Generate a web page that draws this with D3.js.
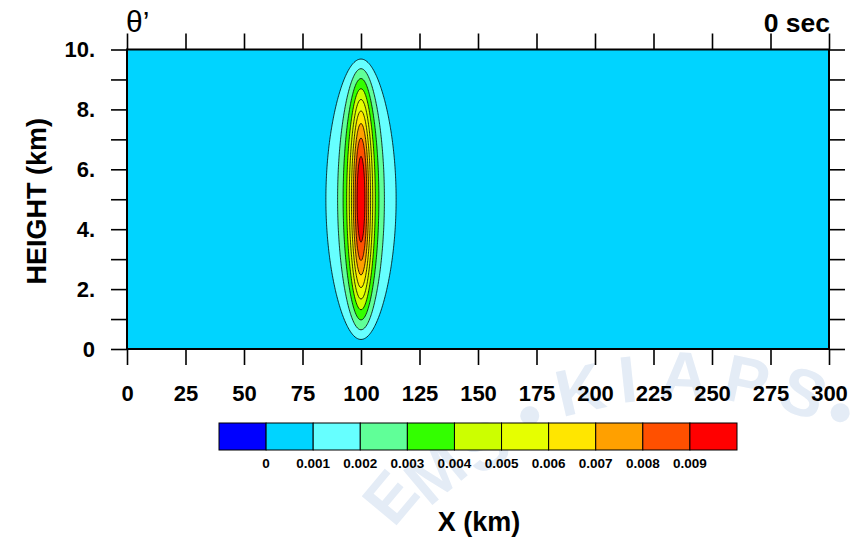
<!DOCTYPE html>
<html>
<head>
<meta charset="utf-8">
<script src="https://cdn.jsdelivr.net/npm/d3@7"></script>
<style>
  body { margin: 0; background: #fff; }
  svg { display: block; }
  text { font-family: "Liberation Sans", Arial, Helvetica, sans-serif; }
</style>
</head>
<body>
<svg id="chart" width="861" height="537"></svg>
<script>
// Axis ticks
const xTicks = [0, 25, 50, 75, 100, 125, 150, 175, 200, 225, 250, 275, 300];
const yTicks = [0, 1, 2, 3, 4, 5, 6, 7, 8, 9, 10];
const yTickLabels = ["0", "", "2.", "", "4.", "", "6.", "", "8.", "", "10."];

// Contour levels of theta' (K) and the fill colour of each band
const levels = [0, 0.001, 0.002, 0.003, 0.004, 0.005, 0.006, 0.007, 0.008, 0.009];
const levelLabels = ["0", "0.001", "0.002", "0.003", "0.004", "0.005", "0.006", "0.007", "0.008", "0.009"];
const bandColors = ["#0000FF", "#00D4FF", "#66FFFF", "#60FF98", "#33FF00", "#CCFF00",
                    "#E6FF00", "#FFE600", "#FFA000", "#FF5000", "#FF0000"];

// Initial potential-temperature perturbation (inertia-gravity wave test)
const thetaAmp = 0.01;   // K
const xCenter = 100;     // km
const halfWidth = 5;     // km
const depth = 10;        // km
const domainX = 300;     // km

// Model grid
const dxKm = 0.5, dzKm = 0.05;
const nx = Math.round(domainX / dxKm) + 1;
const nz = Math.round(depth / dzKm) + 1;
const field = new Float64Array(nx * nz);
for (let j = 0; j < nz; j++) {
  const z = j * dzKm;
  for (let i = 0; i < nx; i++) {
    const x = i * dxKm;
    field[j * nx + i] = thetaAmp * Math.sin(Math.PI * z / depth) /
                        (1 + ((x - xCenter) / halfWidth) ** 2);
  }
}

const svg = d3.select("#chart");
const x = d3.scaleLinear([0, domainX], [127, 829]);
const y = d3.scaleLinear([0, depth], [349, 49.5]);

// Faint logo watermark behind the figure
const wm = svg.append("g").attr("fill", "#e4ecf6").attr("font-weight", "bold")
  .attr("font-size", 66);
const wmLetters = [
  ["E", 408, 512, -50], ["M", 450, 490, -40], ["S", 496, 466, -30], ["•", 538, 436, -22],
  ["K", 585, 412, -13], ["I", 630, 402, -6], ["A", 683, 398, 3], ["P", 742, 403, 12],
  ["S", 795, 414, 21], ["•", 830, 432, 28]
];
wm.selectAll("text").data(wmLetters).join("text")
  .attr("text-anchor", "middle")
  .attr("transform", d => `translate(${d[1]},${d[2]}) rotate(${d[3]})`)
  .text(d => d[0]);

// Plot area
svg.append("clipPath").attr("id", "plotClip")
  .append("rect").attr("x", x(0)).attr("y", y(depth))
  .attr("width", x(domainX) - x(0)).attr("height", y(0) - y(depth));

const plot = svg.append("g").attr("clip-path", "url(#plotClip)");
plot.append("rect")
  .attr("x", x(0)).attr("y", y(depth))
  .attr("width", x(domainX) - x(0)).attr("height", y(0) - y(depth))
  .attr("fill", bandColors[1]);

const contourLevels = levels.slice(1);
const contours = d3.contours().size([nx, nz]).thresholds(contourLevels)(field);
const project = d3.geoTransform({
  point(px, py) {
    this.stream.point(x((px - 0.5) * dxKm), y((py - 0.5) * dzKm));
  }
});
const path = d3.geoPath(project);

plot.selectAll("path.band").data(contours).join("path")
  .attr("class", "band")
  .attr("d", path)
  .attr("fill", d => bandColors[levels.indexOf(d.value) + 1])
  .attr("stroke", "#000")
  .attr("stroke-width", 0.8);

// Axes (ticks all round, labels on left and bottom)
const tickStyle = g => {
  g.select(".domain").remove();
  g.selectAll(".tick line").attr("stroke", "#000").attr("stroke-width", 1.6);
  g.selectAll(".tick text").attr("fill", "#000").attr("font-size", 22)
    .attr("font-weight", "bold").attr("font-family", "\"Liberation Sans\", Arial, sans-serif");
};

svg.append("g").attr("transform", `translate(0,${y(0)})`)
  .call(d3.axisBottom(x).tickValues(xTicks).tickSize(16).tickPadding(20).tickFormat(d3.format("d")))
  .call(tickStyle);
svg.append("g").attr("transform", `translate(0,${y(depth)})`)
  .call(d3.axisTop(x).tickValues(xTicks).tickSize(16).tickFormat(() => ""))
  .call(tickStyle);
svg.append("g").attr("transform", `translate(${x(0)},0)`)
  .call(d3.axisLeft(y).tickValues(yTicks).tickSize(16).tickPadding(16)
    .tickFormat((d, i) => yTickLabels[i]))
  .call(tickStyle);
svg.append("g").attr("transform", `translate(${x(domainX)},0)`)
  .call(d3.axisRight(y).tickValues(yTicks).tickSize(16).tickFormat(() => ""))
  .call(tickStyle);

svg.append("rect")
  .attr("x", x(0)).attr("y", y(depth))
  .attr("width", x(domainX) - x(0)).attr("height", y(0) - y(depth))
  .attr("fill", "none").attr("stroke", "#000").attr("stroke-width", 2);

// Titles
svg.append("text").attr("x", 126).attr("y", 32).attr("font-size", 30).text("θ’");
svg.append("text").attr("x", 830).attr("y", 32).attr("font-size", 26.5)
  .attr("font-weight", "bold").attr("text-anchor", "end").text("0 sec");
svg.append("text")
  .attr("transform", `translate(46,${(y(0) + y(depth)) / 2 + 2}) rotate(-90)`)
  .attr("text-anchor", "middle").attr("font-size", 27).attr("font-weight", "bold")
  .text("HEIGHT (km)");
svg.append("text").attr("x", 479).attr("y", 531).attr("text-anchor", "middle")
  .attr("font-size", 27).attr("font-weight", "bold").text("X (km)");

// Colour bar
const cb = d3.scaleLinear([0, bandColors.length], [219, 737]);
const cbTop = 423, cbHeight = 27;
const cbar = svg.append("g");
cbar.selectAll("rect").data(bandColors).join("rect")
  .attr("x", (d, i) => cb(i)).attr("y", cbTop)
  .attr("width", (d, i) => cb(i + 1) - cb(i)).attr("height", cbHeight)
  .attr("fill", d => d).attr("stroke", "#000").attr("stroke-width", 1);
cbar.selectAll("text").data(levelLabels).join("text")
  .attr("x", (d, i) => cb(i + 1)).attr("y", 467.5)
  .attr("text-anchor", "middle").attr("font-size", 13.5).attr("font-weight", "bold")
  .text(d => d);
</script>
</body>
</html>
